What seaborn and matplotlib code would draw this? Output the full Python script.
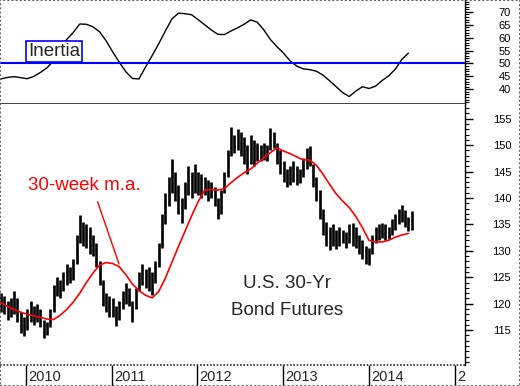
import matplotlib.pyplot as plt
from matplotlib.ticker import MultipleLocator, FixedLocator
import seaborn as sns
import pandas as pd

# two-week high/low bars, U.S. 30-yr bond futures
bar_high = [122, 121.5, 120.5, 121, 122.5, 121, 118.5, 117.5, 119, 120.5,
            119.5, 120, 119, 117, 116.5, 119, 123.5, 125, 124.5, 126,
            127.5, 127, 128.5, 133, 136.8, 135.5, 135, 134.5, 133, 131.5,
            128, 124.5, 122, 121.5, 121, 119.5, 120.5, 122.5, 124, 123,
            120.5, 123, 126, 127.5, 126.5, 127, 126, 128, 131.5, 137,
            141, 144, 147.3, 145, 142.5, 140, 143, 146, 145, 146.5,
            145, 144.5, 144, 143.5, 143, 142, 140, 141.5, 145, 149,
            153.5, 152, 153, 152.5, 151.5, 150, 152, 151, 150.5, 150,
            150.5, 150, 153.3, 152.5, 150.5, 149, 147, 145.5, 146, 147,
            146, 145.5, 147.5, 149.5, 149.8, 146.5, 144, 141.5, 138, 135.5,
            134.5, 135, 134, 134.5, 134, 133.5, 135, 135.3, 134.5, 133,
            132, 131, 130.5, 133, 134.5, 135, 135.3, 135, 134.5, 136,
            137, 138, 138.7, 137.8, 136.5, 137.5]
bar_low = [118.5, 118, 117, 117.5, 118, 116.5, 114.5, 113.8, 115, 116.5,
           116, 116.5, 115.5, 113.5, 114, 115.5, 118.5, 121.5, 121, 122.5,
           123.5, 124, 124.5, 127.5, 131.5, 131, 130.5, 129.5, 129, 127,
           123.5, 119.5, 118.5, 117.5, 117.5, 115.8, 117, 119, 120, 119.5,
           116.5, 119, 122.5, 123.5, 123, 122.5, 121.7, 124, 127, 130.5,
           135, 138.5, 141, 139.5, 137, 135.3, 138, 140.5, 140, 141,
           140.5, 140, 140.5, 139.5, 140, 138.5, 136, 137, 141, 144,
           148, 148.5, 149, 148, 146.5, 144.5, 146.5, 146, 147, 147,
           147.2, 147, 149, 149.5, 146.5, 144.5, 143, 142, 142.5, 143,
           142.5, 142.8, 144, 145.5, 146, 142, 139.5, 136, 133, 131,
           130.2, 131, 130.3, 131, 131.5, 130.5, 131.5, 131, 130.5, 129.5,
           128.5, 127.5, 127.3, 129.5, 131.5, 132, 132.5, 132, 132.2, 133,
           134, 135, 135.5, 134.5, 133.8, 134]

# 30-week moving average, sampled every second bar
ma_30wk = [120.2, 119.5, 118.9, 118.4, 118.0, 117.7, 117.4, 117.1, 117.0, 117.8,
           118.9, 120.3, 122.0, 124.0, 125.8, 127.3, 127.8, 127.6, 127.0, 125.5,
           123.7, 122.5, 121.6, 121.1, 122.3, 124.8, 127.8, 130.8, 133.7, 136.6,
           139.3, 141.5, 141.6, 141.5, 141.8, 142.9, 143.9, 144.8, 145.5, 146.6,
           147.6, 148.6, 149.5, 148.9, 148.4, 147.8, 147.2, 147.2, 146.2, 144.5,
           142.6, 140.8, 139.4, 138.2, 136.5, 134.4, 132.0, 131.7, 131.7, 132.0,
           132.6, 133.0, 133.3]

# inertia indicator, sampled every second bar
inertia = [44.0, 44.6, 44.9, 44.5, 44.1, 45.0, 46.5, 48.3, 51.0, 55.5,
           59.3, 62.0, 65.3, 65.2, 64.2, 62.3, 58.8, 54.5, 50.5, 46.8,
           44.2, 44.0, 48.6, 53.0, 57.6, 62.5, 67.2, 69.5, 69.3, 68.9,
           67.0, 65.0, 63.0, 61.3, 61.2, 62.6, 63.8, 65.2, 66.9, 66.0,
           63.0, 59.3, 56.5, 54.0, 51.0, 49.0, 47.9, 47.6, 47.0, 45.5,
           43.3, 41.0, 38.7, 37.2, 39.3, 41.0, 40.3, 41.2, 43.4, 45.2,
           47.8, 51.6, 54.0]

year_labels = ['2010', '2011', '2012', '2013', '2014', '2']
year_starts = ['2010-01-01', '2011-01-01', '2012-01-01', '2013-01-01',
               '2014-01-01', '2015-01-01']

dates = pd.date_range('2009-09-16', periods=len(bar_high), freq='14D')
line_dates = dates[::2][:len(ma_30wk)]

sns.set_style('white')
plt.rcParams['font.family'] = ['Liberation Sans', 'DejaVu Sans']

fig = plt.figure(figsize=(5.2, 3.86), dpi=100)
ax_top = fig.add_axes([0, 0.7306, 0.8942, 0.2694])
ax_bot = fig.add_axes([0, 0.0544, 0.8942, 0.6762])
ax_dt = fig.add_axes([0, 0, 0.8942, 0.0544])

x0, x1 = pd.Timestamp('2009-09-12'), pd.Timestamp('2015-02-14')

# top panel: inertia
sns.lineplot(x=line_dates, y=inertia, ax=ax_top, color='black', lw=1)
ax_top.axhline(50, color='#0000ff', lw=1.5)
ax_top.text(pd.Timestamp('2010-01-09'), 54.7, 'Inertia', fontsize=13.5,
            va='center', ha='left',
            bbox=dict(boxstyle='square,pad=0.12', fc='white', ec='#0000ff', lw=1.2))
ax_top.set_ylim(34.3, 74.6)
ax_top.yaxis.set_major_locator(FixedLocator(list(range(40, 75, 5))))

# bottom panel: price bars + moving average
ax_bot.vlines(dates, bar_low, bar_high, color='black', lw=1.9)
sns.lineplot(x=line_dates, y=ma_30wk, ax=ax_bot, color='#ff0000', lw=1.2)
ax_bot.text(pd.Timestamp('2010-01-08'), 142.3, '30-week m.a.', color='#ff0000',
            fontsize=13.5, va='center', ha='left')
ax_bot.plot([pd.Timestamp('2010-11-02'), pd.Timestamp('2011-02-01')], [139.3, 127.5],
            color='#ff0000', lw=1)
ax_bot.text(pd.Timestamp('2013-01-17'), 123.9, 'U.S. 30-Yr', fontsize=13.5,
            ha='center', va='center')
ax_bot.text(pd.Timestamp('2013-01-17'), 118.8, 'Bond Futures', fontsize=13.5,
            ha='center', va='center')
ax_bot.set_ylim(108.4, 157.8)
ax_bot.yaxis.set_major_locator(FixedLocator(list(range(115, 160, 5))))

for ax in (ax_top, ax_bot):
    ax.set_xlim(x0, x1)
    ax.set_xticks([])
    ax.set_xlabel('')
    ax.set_ylabel('')
    ax.yaxis.tick_right()
    ax.yaxis.set_minor_locator(MultipleLocator(1))
    ax.tick_params(axis='y', which='major', direction='out', length=5.8,
                   width=1, pad=27.4, labelsize=8, colors='black')
    ax.tick_params(axis='y', which='minor', direction='out', length=2.9,
                   width=0.8, right=True, colors='black')
    plt.setp(ax.get_yticklabels(), ha='right')
    for s in ('left', 'top'):
        ax.spines[s].set_visible(False)
    ax.spines['right'].set_color('black')
    ax.spines['right'].set_linewidth(1)

ax_top.spines['bottom'].set_color('#222222')
ax_top.spines['bottom'].set_linestyle((0, (1, 1)))
ax_top.spines['bottom'].set_linewidth(1.2)
ax_bot.spines['bottom'].set_visible(False)

# date strip
ax_dt.set_xlim(x0, x1)
ax_dt.set_ylim(0, 1)
ax_dt.set_axis_off()
ax_dt.axhline(1, color='#333333', ls=(0, (1, 1)), lw=1.2, clip_on=False)
for d, lab in zip(year_starts, year_labels):
    d = pd.Timestamp(d)
    ax_dt.vlines(d, 0, 1, color='black', lw=1)
    ax_dt.text(d + pd.Timedelta(days=9), 0.45, lab, fontsize=10.5,
               ha='left', va='center')

fig.add_artist(plt.Rectangle((0, 0), 1, 1, transform=fig.transFigure, fill=False,
                             ec='#666666', ls=(0, (1, 1)), lw=1.5))

fig.savefig('out.png', dpi=100)
